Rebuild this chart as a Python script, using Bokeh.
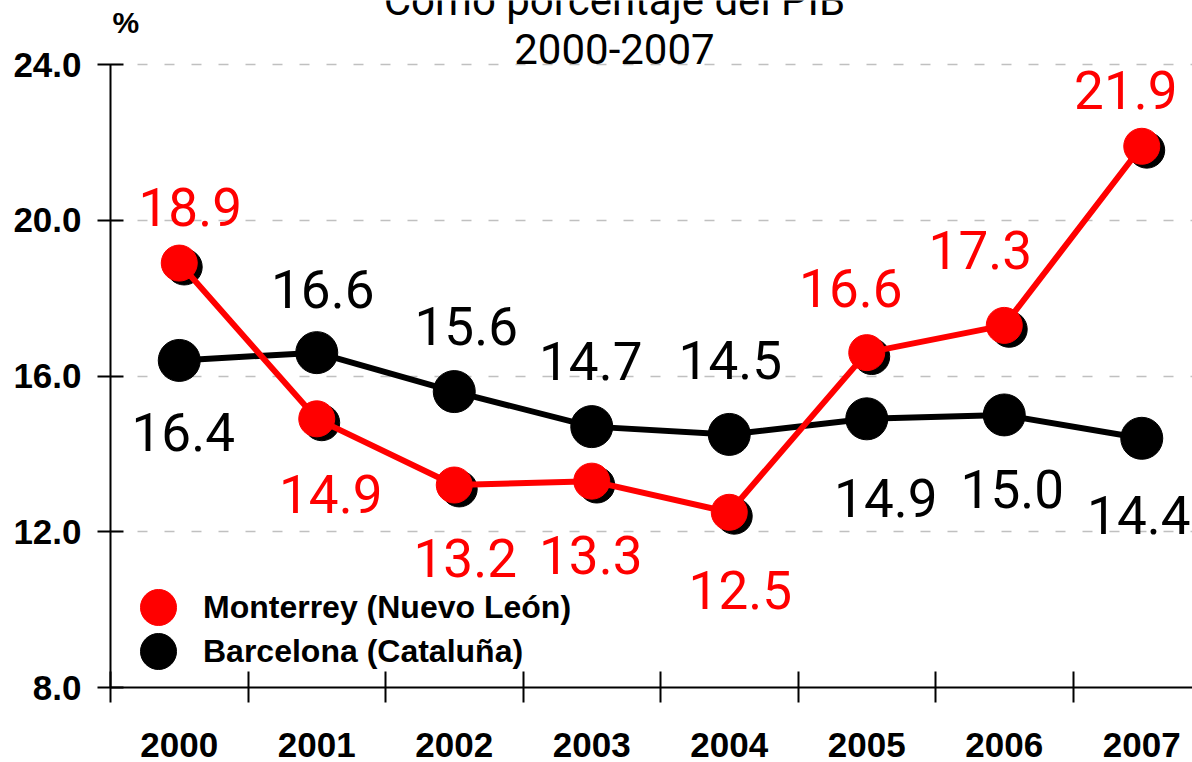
import numpy as np
from bokeh.plotting import figure
from bokeh.models import (ColumnDataSource, FixedTicker, PrintfTickFormatter, Label,
                          Legend, LegendItem, Range1d)
from bokeh.transform import dodge
from bokeh.core.properties import value
from bokeh.embed import file_html
from bokeh.resources import INLINE

# ---------------- data ----------------
years = ["2000", "2001", "2002", "2003", "2004", "2005", "2006", "2007"]
monterrey = [18.9, 14.9, 13.2, 13.3, 12.5, 16.6, 17.3, 21.9]
barcelona = [16.4, 16.6, 15.6, 14.7, 14.5, 14.9, 15.0, 14.4]
y_ticks = [8, 12, 16, 20, 24]
title_lines = ["Como porcentaje del PIB", "2000-2007"]
series_names = ["Monterrey (Nuevo León)", "Barcelona (Cataluña)"]
unit_label = "%"

# label offsets in screen pixels (style/position only)
mty_dx = [11, 14, 11, -1, 11, -16, -24, -16]
mty_dy = [-56, 75, 73, 74, 78, -65, -75, -56]
bcn_dx = [4, 6, 12, -1, 1, 19, 8, -3]
bcn_dy = [72, -64, -66, -66, -74, 79, 74, 77]

COND = "Roboto, DejaVu Sans Condensed, sans-serif"
SANS = "Liberation Sans, Arial, sans-serif"
RED = "#ff0000"

idx = list(range(len(years)))
src_m = ColumnDataSource(dict(x=idx, y=monterrey, t=[f"{v:.1f}" for v in monterrey],
                              dx=mty_dx, dy=mty_dy))
src_b = ColumnDataSource(dict(x=idx, y=barcelona, t=[f"{v:.1f}" for v in barcelona],
                              dx=bcn_dx, dy=bcn_dy))

p = figure(width=1192, height=762, output_backend="svg", toolbar_location=None,
           x_range=Range1d(-0.5, 7.369), y_range=Range1d(8, 25.644),
           min_border_left=110, min_border_right=0, min_border_top=0, min_border_bottom=75)
p.outline_line_color = None
p.background_fill_color = "white"
p.border_fill_color = "white"

# axes
p.yaxis.ticker = FixedTicker(ticks=y_ticks)
p.yaxis.bounds = (y_ticks[0], y_ticks[-1])
p.yaxis.formatter = PrintfTickFormatter(format="%.1f")
p.yaxis.major_label_text_font = SANS
p.yaxis.major_label_text_font_style = "bold"
p.yaxis.major_label_text_font_size = "35px"
p.yaxis.major_label_text_color = "black"
p.yaxis.major_tick_in = 13
p.yaxis.major_tick_out = 13
p.yaxis.major_tick_line_width = 2
p.yaxis.major_label_standoff = 16
p.yaxis.minor_tick_line_color = None
p.yaxis.axis_line_width = 2

p.xaxis.ticker = FixedTicker(ticks=idx, minor_ticks=[i - 0.5 for i in idx] + [len(idx) - 0.5])
p.xaxis.major_label_overrides = {i: y for i, y in zip(idx, years)}
p.xaxis.major_tick_line_color = None
p.xaxis.major_tick_in = 0
p.xaxis.major_tick_out = 0
p.xaxis.minor_tick_in = 16
p.xaxis.minor_tick_out = 15
p.xaxis.minor_tick_line_width = 2
p.xaxis.minor_tick_line_color = "black"
p.xaxis.axis_line_width = 2
p.xaxis.major_label_text_font = SANS
p.xaxis.major_label_text_font_style = "bold"
p.xaxis.major_label_text_font_size = "35px"
p.xaxis.major_label_text_color = "black"
p.xaxis.major_label_standoff = 30

p.xgrid.grid_line_color = None
p.ygrid.ticker = FixedTicker(ticks=y_ticks[1:])
p.ygrid.grid_line_color = "#c0c0c0"
p.ygrid.grid_line_width = 1.5
p.ygrid.grid_line_dash = "10 17"

# Barcelona
p.line("x", "y", source=src_b, line_color="black", line_width=6)
r_b = p.scatter("x", "y", source=src_b, size=42, fill_color="black", line_color="black")

# Monterrey (with shadow)
p.scatter(dodge("x", 0.036), dodge("y", -0.10), source=src_m, size=36,
          fill_color="black", line_color="black")
p.line("x", "y", source=src_m, line_color=RED, line_width=6)
r_m = p.scatter("x", "y", source=src_m, size=36, fill_color=RED, line_color=RED)

# value labels
for src, col in ((src_m, RED), (src_b, "black")):
    p.text("x", "y", text="t", source=src, x_offset="dx", y_offset="dy",
           text_align="center", text_baseline="middle", text_color=col,
           text_font=value(COND), text_font_size="53px")

# legend: one legend per entry so that the rows can sit close together
legend_kw = dict(glyph_width=90, glyph_height=90, label_standoff=-9, padding=0, margin=0,
                 border_line_color=None, background_fill_alpha=0, label_text_font=SANS,
                 label_text_font_style="bold", label_text_font_size="32px",
                 label_text_color="black")
p.add_layout(Legend(items=[LegendItem(label=series_names[0], renderers=[r_m])],
                    location=(3, 35), **legend_kw), "center")
p.add_layout(Legend(items=[LegendItem(label=series_names[1], renderers=[r_b])],
                    location=(3, -9), **legend_kw), "center")

# titles
p.add_layout(Label(x=3.165, y=25.644, text=title_lines[0], text_align="center",
                   text_baseline="alphabetic", text_font=COND, text_font_size="42px",
                   text_color="black"))
p.add_layout(Label(x=3.165, y=24.411, text=title_lines[1], text_align="center",
                   text_baseline="alphabetic", text_font=COND, text_font_size="42px",
                   text_color="black"))
p.add_layout(Label(x=-0.5, y=25.08, x_offset=2, text=unit_label, text_align="left",
                   text_baseline="alphabetic", text_font=SANS, text_font_style="bold",
                   text_font_size="30px", text_color="black"))

open("out.html", "w").write(file_html(p, INLINE))
